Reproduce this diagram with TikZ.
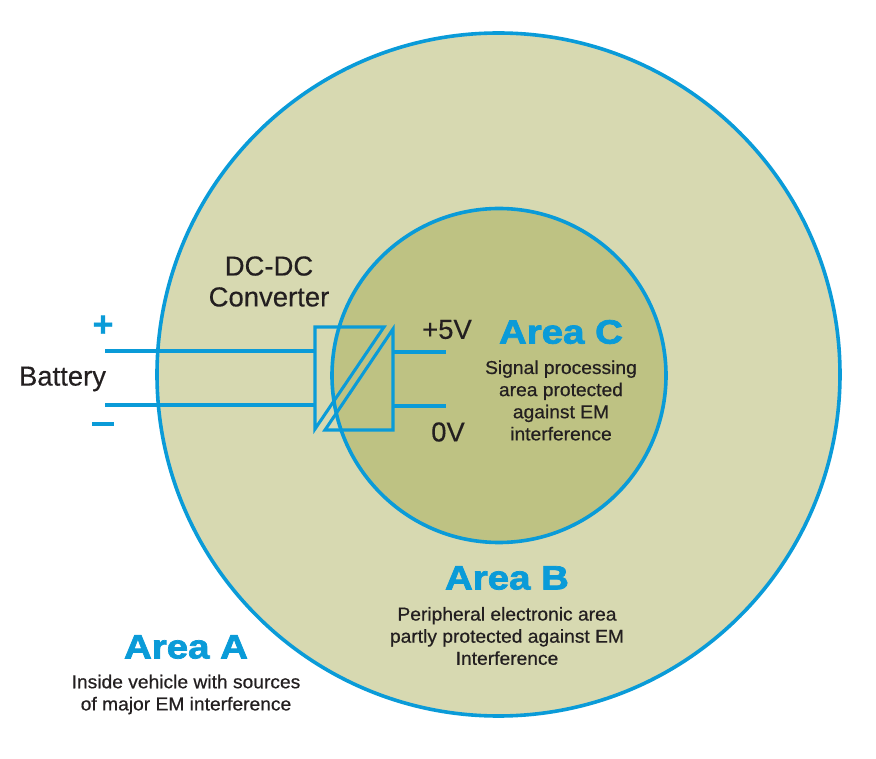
\documentclass[tikz,border=0pt]{standalone}
\usepackage{fontspec}
\setmainfont{Liberation Sans}
\newfontfamily\areafont[FakeBold=2.2,FakeStretch=1.14]{Liberation Sans Bold}
\newfontfamily\notefont[FakeBold=0.6,FakeStretch=1.03]{Liberation Sans}
\newfontfamily\labelfont[FakeBold=0.3]{Liberation Sans}
\usetikzlibrary{positioning}
\definecolor{wireblue}{HTML}{0A9BD8}
\definecolor{outerarea}{HTML}{D7D9B1}
\definecolor{innerarea}{HTML}{BEC283}
\definecolor{inktext}{HTML}{231F20}
\tikzset{
  wire/.style={draw=wireblue,line width=2.6pt},
  thinwire/.style={draw=wireblue,line width=2.3pt},
  rim/.style={draw=wireblue,line width=2.7pt},
  label/.style={text=inktext,font=\labelfont\fontsize{20.6}{23.2}\selectfont,align=center,inner sep=0pt},
  note/.style={text=inktext,font=\notefont\fontsize{14}{16.6}\selectfont,align=center,inner sep=0pt},
  areatitle/.style={text=wireblue,font=\areafont\fontsize{25.3}{28}\selectfont,inner sep=0pt},
}
\begin{document}
\begin{tikzpicture}[x=0.75pt,y=-0.75pt]
  \useasboundingbox (0,0) rectangle (876,759);

  % Areas
  \draw[rim,fill=outerarea] (498.5,374.5) circle (341.5*0.75pt);
  \draw[rim,fill=innerarea] (499,375.5) circle (167*0.75pt);

  % Converter
  \coordinate (inP) at (105,351);
  \coordinate (inM) at (105,405);
  \coordinate (boxP) at (315,351);
  \coordinate (boxM) at (315,405);
  \coordinate (outP) at (446,352);
  \coordinate (outM) at (446,406);
  \coordinate (boxQ) at (393,352);
  \coordinate (boxN) at (393,406);
  \draw[thinwire,line join=miter] (315,327) -- (384,327) -- (315,429) -- cycle;
  \draw[thinwire,line join=miter] (393,329) -- (393,430) -- (325,430) -- cycle;
  \draw[wire] (inP) -- (boxP);
  \draw[wire] (inM) -- (boxM);
  \draw[wire] (boxQ) -- (outP);
  \draw[wire] (boxN) -- (outM);

  % Labels
  \coordinate (minusL) at (92,424);
  \coordinate (minusR) at (114,424);
  \node[text=wireblue,font=\labelfont\bfseries\fontsize{27}{27}\selectfont,inner sep=0pt] (plus) at (103,326) {+};
  \draw[thinwire] (minusL) -- (minusR);
  \node[label] (battery) at (62.5,379) {Battery};
  \node[label] (converter) at (269,281.5) {DC-DC\\Converter};
  \node[label] (fiveV) at (447,329.5) {+5V};
  \node[label] (zeroV) at (448,432) {0V};

  \node[areatitle] (areaC) at (561,332) {Area C};
  \node[note] (noteC) at (561,400.5) {Signal processing\\area protected\\against EM\\interference};
  \node[areatitle] (areaB) at (507,578) {Area B};
  \node[note] (noteB) at (507,636) {Peripheral electronic area\\partly protected against EM\\Interference};
  \node[areatitle] (areaA) at (186,647) {Area A};
  \node[note] (noteA) at (186,694.5) {Inside vehicle with sources\\of major EM interference};
\end{tikzpicture}
\end{document}
